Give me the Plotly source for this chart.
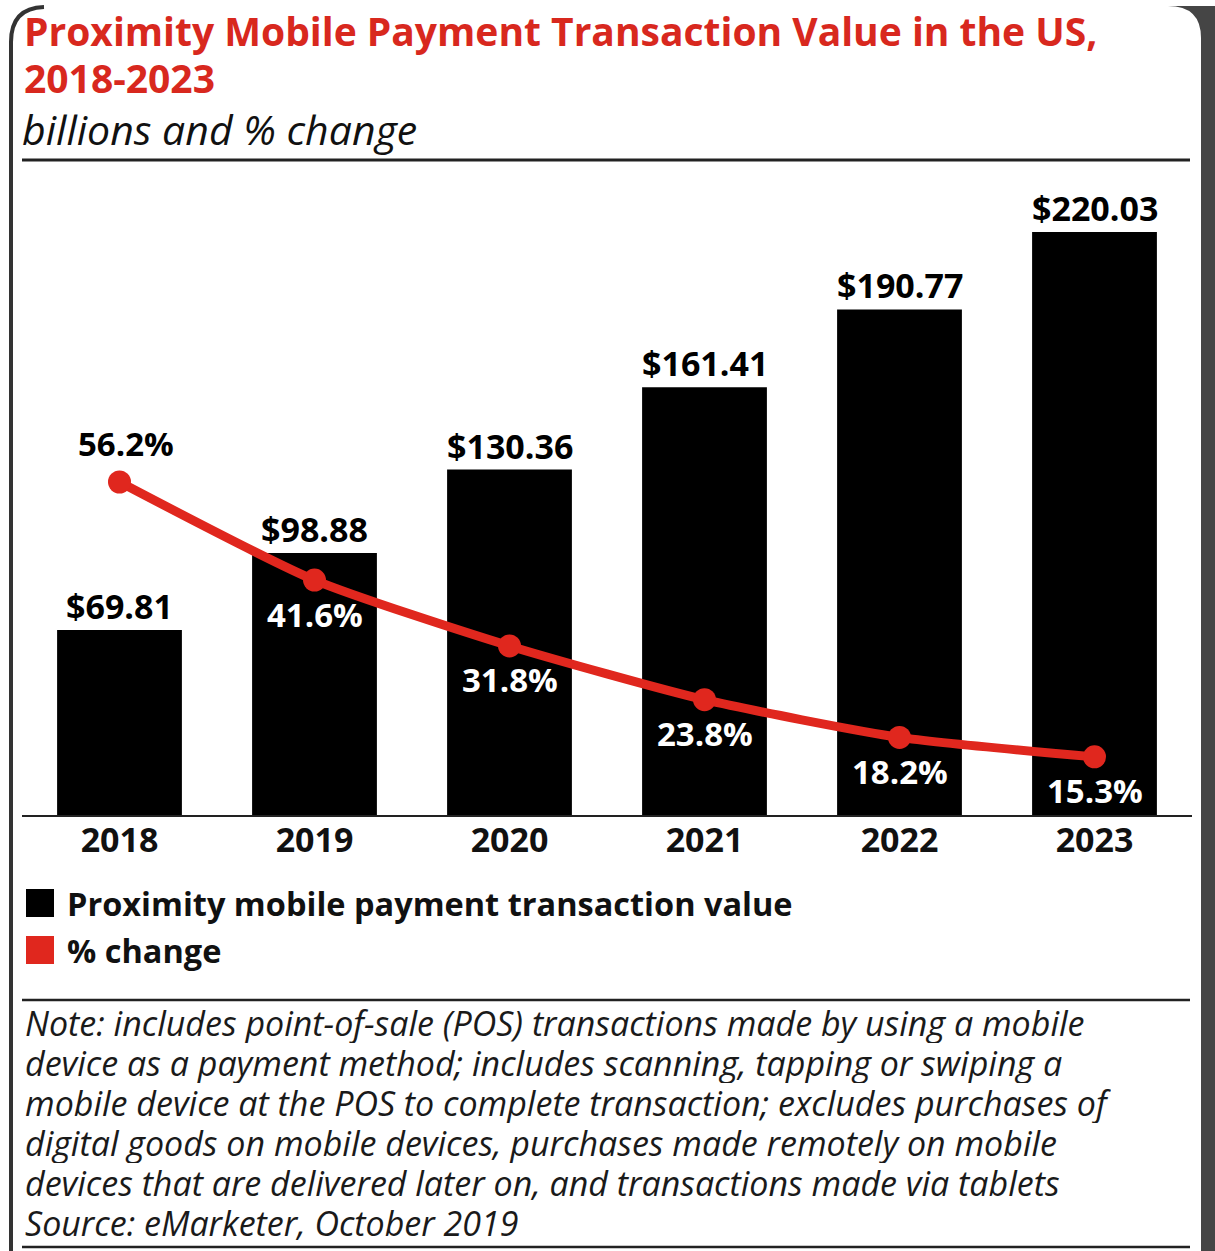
import plotly.graph_objects as go

# ---- data ----
years = ["2018", "2019", "2020", "2021", "2022", "2023"]
values = [69.81, 98.88, 130.36, 161.41, 190.77, 220.03]
pct_change = [56.2, 41.6, 31.8, 23.8, 18.2, 15.3]

title_lines = ["Proximity Mobile Payment Transaction Value in the US,", "2018-2023"]
subtitle = "billions and % change"
legend_labels = ["Proximity mobile payment transaction value", "% change"]
note_lines = [
    "Note: includes point-of-sale (POS) transactions made by using a mobile",
    "device as a payment method; includes scanning, tapping or swiping a",
    "mobile device at the POS to complete transaction; excludes purchases of",
    "digital goods on mobile devices, purchases made remotely on mobile",
    "devices that are delivered later on, and transactions made via tablets",
    "Source: eMarketer, October 2019",
]

# ---- geometry (page pixels) ----
W, H = 1215, 1251
PL, PR, PT, PB = 22, 1192, 165, 815  # plot area box
RED = "#e0271e"
TITLE_RED = "#d8281e"
FONT = "Open Sans"


def px(x):
    return (x - PL) / (PR - PL)


def py(y):
    return (PB - y) / (PB - PT)


fig = go.Figure()

fig.add_trace(go.Bar(
    x=years, y=values, marker=dict(color="#000000", line=dict(width=0)),
    hoverinfo="skip", showlegend=False,
))
fig.add_trace(go.Scatter(
    x=years, y=pct_change, yaxis="y2", mode="lines+markers",
    line=dict(color=RED, width=9, shape="spline", smoothing=0.6),
    marker=dict(color=RED, size=23),
    hoverinfo="skip", showlegend=False,
))

annotations = []

# value labels above bars (x given as category index)
for i, v in enumerate(values):
    annotations.append(dict(
        x=i, y=v, xref="x", yref="y", text=f"${v:.2f}", showarrow=False,
        yanchor="middle", yshift=24,
        font=dict(family=FONT, size=34, color="#000", weight=700),
    ))

# percent labels: first one sits above the point, the rest inside the bars
for i, p in enumerate(pct_change):
    above = i == 0
    annotations.append(dict(
        x=i, y=p, xref="x", yref="y2", text=f"{p:.1f}%", showarrow=False,
        yanchor="middle", yshift=39 if above else -34, xshift=6 if above else 0,
        font=dict(family=FONT, size=33, color="#000" if above else "#fff", weight=700),
    ))

# title block
annotations.append(dict(
    x=px(22), y=py(30), xref="paper", yref="paper", xanchor="left", yanchor="middle",
    text=title_lines[0], showarrow=False,
    font=dict(family=FONT, size=39, color=TITLE_RED, weight=700),
))
annotations.append(dict(
    x=px(22), y=py(78), xref="paper", yref="paper", xanchor="left", yanchor="middle",
    text=title_lines[1], showarrow=False,
    font=dict(family=FONT, size=39, color=TITLE_RED, weight=700),
))
annotations.append(dict(
    x=px(20), y=py(129), xref="paper", yref="paper", xanchor="left", yanchor="middle",
    text=f"<i>{subtitle}</i>", showarrow=False,
    font=dict(family=FONT, size=41, color="#111", weight=400),
))

# legend
legend_y = [903, 950]
legend_colors = ["#000000", RED]
shapes = []
for lab, ly, col in zip(legend_labels, legend_y, legend_colors):
    shapes.append(dict(type="rect", xref="paper", yref="paper",
                       x0=px(26), x1=px(54), y0=py(ly - 14), y1=py(ly + 14),
                       fillcolor=col, line=dict(width=0)))
    annotations.append(dict(
        x=px(65), y=py(ly), xref="paper", yref="paper", xanchor="left", yanchor="middle",
        text=lab, showarrow=False,
        font=dict(family=FONT, size=32.5, color="#111", weight=700),
    ))

# footnote, one fixed-height row per line
for i, line in enumerate(note_lines):
    annotations.append(dict(
        x=px(23), y=py(1023 + 40 * i), xref="paper", yref="paper",
        xanchor="left", yanchor="middle", height=40, valign="middle",
        text=f"<i>{line}</i>", showarrow=False,
        font=dict(family=FONT, size=34, color="#1a1a1a"),
    ))

# rules
for ry, lw in [(160, 3), (1000, 2.5), (1247, 2.5)]:
    shapes.append(dict(type="line", xref="paper", yref="paper",
                       x0=px(22), x1=px(1190), y0=py(ry), y1=py(ry),
                       line=dict(color="#222", width=lw)))

# device frame edges
shapes.append(dict(type="path", xref="paper", yref="paper",
                   path=(f"M {px(1168)},{py(6)} L {px(1215)},{py(6)} L {px(1215)},{py(1251)} "
                         f"L {px(1201)},{py(1251)} L {px(1201)},{py(38)} "
                         f"Q {px(1201)},{py(6)} {px(1168)},{py(6)} Z"),
                   fillcolor="#454545", line=dict(width=0)))
shapes.append(dict(type="path", xref="paper", yref="paper",
                   path=(f"M {px(11)},{py(1251)} L {px(11)},{py(42)} "
                         f"Q {px(11)},{py(8)} {px(44)},{py(7)}"),
                   line=dict(color="#333", width=4)))

fig.update_layout(
    width=W, height=H,
    margin=dict(l=PL, r=W - PR, t=PT, b=H - PB),
    paper_bgcolor="#ffffff", plot_bgcolor="#ffffff",
    bargap=0.36,
    xaxis=dict(
        type="category", range=[-0.5, len(years) - 0.5],
        showline=True, linecolor="#222", linewidth=2,
        showgrid=False, ticks="", ticklabelstandoff=-6,
        tickfont=dict(family=FONT, size=34, color="#111", weight=700),
    ),
    yaxis=dict(range=[0, (PB - PT) / 2.65], visible=False, showgrid=False),
    yaxis2=dict(range=[6.65, 103.37], overlaying="y", visible=False, showgrid=False),
    annotations=annotations,
    shapes=shapes,
)

fig.write_html("out.html")
